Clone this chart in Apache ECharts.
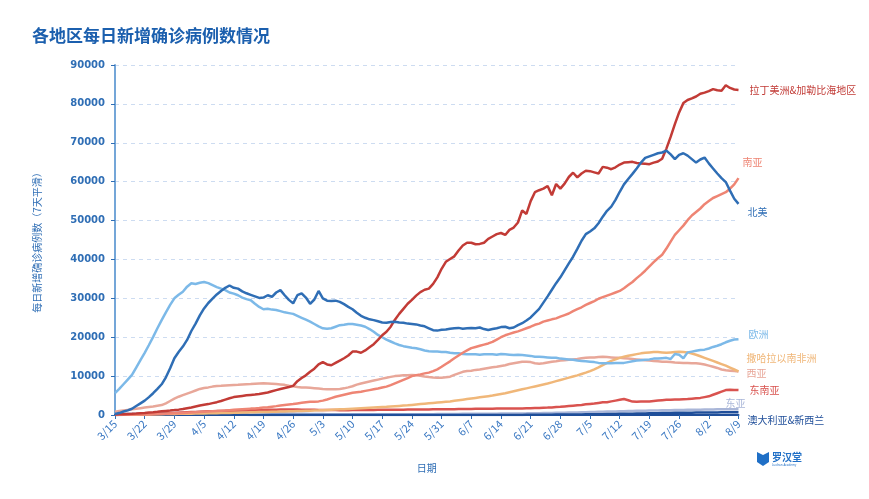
<!DOCTYPE html>
<html>
<head>
<meta charset="utf-8">
<script src="https://cdn.jsdelivr.net/npm/echarts@6/dist/echarts.min.js"></script>
<style>
html,body{margin:0;padding:0;background:#fff;}
#chart{width:869px;height:499px;}
</style>
</head>
<body>
<div id="chart"></div>
<script>
const dates = [
'3/15','3/16','3/17','3/18','3/19','3/20','3/21','3/22','3/23','3/24','3/25','3/26','3/27','3/28','3/29','3/30','3/31',
'4/1','4/2','4/3','4/4','4/5','4/6','4/7','4/8','4/9','4/10','4/11','4/12','4/13','4/14','4/15','4/16','4/17','4/18','4/19','4/20','4/21','4/22','4/23','4/24','4/25','4/26','4/27','4/28','4/29','4/30',
'5/1','5/2','5/3','5/4','5/5','5/6','5/7','5/8','5/9','5/10','5/11','5/12','5/13','5/14','5/15','5/16','5/17','5/18','5/19','5/20','5/21','5/22','5/23','5/24','5/25','5/26','5/27','5/28','5/29','5/30','5/31',
'6/1','6/2','6/3','6/4','6/5','6/6','6/7','6/8','6/9','6/10','6/11','6/12','6/13','6/14','6/15','6/16','6/17','6/18','6/19','6/20','6/21','6/22','6/23','6/24','6/25','6/26','6/27','6/28','6/29','6/30',
'7/1','7/2','7/3','7/4','7/5','7/6','7/7','7/8','7/9','7/10','7/11','7/12','7/13','7/14','7/15','7/16','7/17','7/18','7/19','7/20','7/21','7/22','7/23','7/24','7/25','7/26','7/27','7/28','7/29','7/30','7/31',
'8/1','8/2','8/3','8/4','8/5','8/6','8/7','8/8','8/9'
];

const yTicks = [0, 10000, 20000, 30000, 40000, 50000, 60000, 70000, 80000, 90000];

const latinAmerica = [
150,180,220,270,320,380,450,
520,620,720,830,950,1050,1150,
1260,1380,1540,1750,1950,2200,2450,
2650,2800,3050,3300,3600,3950,4300,
4600,4750,4900,5050,5150,5250,5400,
5600,5800,6100,6400,6700,6950,7200,
7500,8700,9500,10200,11100,11900,13000,
13600,13000,12800,13400,14000,14600,15300,
16300,16300,16000,16600,17400,18200,19300,
20500,21400,22700,24500,26000,27300,28600,
29600,30700,31600,32200,32500,33700,35400,
37600,39400,40100,40800,42300,43600,44300,
44300,43900,44000,44300,45300,45900,46500,
46800,46300,47600,48200,49500,52600,51700,
55000,57300,57800,58200,58900,56500,59400,
58200,59500,61200,62300,61100,62100,62800,
62700,62400,62100,63800,63600,63200,63700,
64400,64900,65000,65100,64800,64700,64600,
64500,64900,65200,65900,68500,71500,74800,
77800,80200,81000,81400,81900,82600,82900,
83300,83800,83500,83400,84800,84100,83700,
83600];

const northAmerica = [
250,500,900,1200,1600,2300,3000,
3700,4600,5600,6700,7900,9700,12000,
14600,16200,17600,19300,21600,23500,25600,
27400,28800,29900,31000,31900,32700,33300,
32700,32500,31800,31300,30900,30500,30100,
30200,30800,30400,31500,32100,30800,29600,
28700,30800,31300,30200,28600,29700,31900,
30000,29400,29300,29400,29100,28500,27800,
27200,26300,25500,25000,24600,24400,24100,
23800,23700,23900,24000,23800,23700,23500,
23400,23300,23000,22800,22300,21800,21700,
21900,22000,22200,22300,22400,22200,22300,
22400,22300,22500,22100,21850,22100,22300,
22600,22700,22300,22500,23100,23600,24300,
25100,26200,27300,28900,30500,32200,33900,
35400,37200,39000,40700,42700,44800,46500,
47200,48000,49300,51000,52500,53600,55300,
57400,59300,60700,62000,63400,64900,66100,
66500,66900,67300,67500,68000,67000,65800,
66900,67300,66700,65800,64900,65700,66200,
64700,63400,62100,60900,59900,57700,55600,
54300];

const southAsia = [
30,40,50,60,80,100,120,
150,180,220,260,300,340,380,
430,480,540,600,660,720,780,
840,900,960,1020,1090,1160,1240,
1320,1400,1480,1560,1640,1700,1780,
1900,2020,2150,2280,2420,2560,2700,
2830,2980,3130,3280,3400,3430,3500,
3700,4000,4350,4700,4950,5200,5450,
5700,5850,6000,6200,6400,6600,6800,
7050,7300,7700,8150,8600,9050,9500,
10000,10250,10450,10700,10900,11300,11750,
12400,13100,13800,14600,15300,16000,16600,
17200,17500,17800,18100,18400,18800,19400,
20000,20500,20850,21200,21500,21900,22300,
22700,23200,23500,24000,24300,24600,24850,
25300,25700,26100,26700,27200,27700,28300,
28800,29300,29900,30300,30700,31100,31500,
31900,32600,33400,34200,35200,36100,37100,
38200,39300,40300,41200,42800,44600,46300,
47500,48700,50100,51300,52200,53100,54200,
55000,55800,56300,56800,57300,58200,59300,
60900];

const europe = [
5600,6700,7900,9100,10300,12200,14100,
16000,18000,20100,22300,24400,26400,28300,
30000,30900,31700,33000,33900,33700,34000,
34200,33900,33400,32900,32500,32100,31500,
31200,30800,30200,29800,29500,28600,27800,
27200,27300,27100,27000,26700,26400,26200,
26000,25500,25000,24500,24000,23400,22800,
22300,22200,22300,22700,23100,23200,23400,
23400,23200,23000,22700,22100,21400,20600,
20000,19400,18900,18400,18000,17700,17500,
17300,17150,16900,16600,16400,16300,16300,
16200,16200,16000,15900,15900,15700,15600,
15600,15600,15500,15600,15600,15600,15500,
15700,15600,15500,15400,15500,15400,15300,
15200,15000,15000,14900,14800,14700,14700,
14500,14400,14300,14200,14000,13900,13800,
13700,13600,13400,13300,13300,13300,13400,
13400,13400,13600,13800,14000,14100,14200,
14300,14500,14500,14600,14700,14400,15700,
15500,14600,16100,16300,16500,16700,16800,
17100,17500,17800,18200,18700,19100,19400,
19500];

const subSaharanAfrica = [
30,40,50,60,70,90,110,
130,150,170,190,210,230,250,
270,290,310,330,350,370,390,
410,430,450,470,490,510,530,
560,590,620,650,680,710,740,
770,800,830,860,890,920,950,
980,1010,1040,1080,1120,1160,1200,
1250,1300,1350,1400,1450,1500,1560,
1620,1680,1740,1800,1860,1920,1980,
2040,2100,2180,2260,2340,2420,2500,
2600,2700,2800,2900,3000,3100,3200,
3300,3400,3500,3650,3800,3950,4100,
4250,4400,4550,4700,4850,5000,5200,
5400,5600,5850,6100,6350,6600,6850,
7100,7350,7600,7850,8100,8400,8700,
9000,9300,9600,9900,10200,10550,10900,
11300,11750,12250,12800,13400,13900,14300,
14700,15000,15250,15450,15650,15850,16000,
16100,16200,16200,16100,16000,16100,16200,
16250,16200,16100,15800,15500,15100,14700,
14300,13900,13500,13100,12700,12200,11700,
11200];

const westAsia = [
850,1000,1150,1300,1450,1600,1750,
1900,2050,2200,2400,2550,3000,3600,
4200,4700,5100,5500,5900,6300,6700,
6950,7100,7300,7450,7500,7600,7650,
7700,7750,7850,7900,7950,8050,8100,
8150,8100,8050,7950,7850,7750,7550,
7400,7200,7100,7050,7000,6900,6800,
6700,6650,6600,6600,6700,6850,7100,
7400,7800,8100,8350,8600,8850,9100,
9350,9600,9800,10000,10100,10200,10250,
10300,10250,10100,9900,9750,9650,9600,
9600,9700,9850,10300,10700,11100,11300,
11400,11600,11700,11900,12100,12300,12400,
12600,12800,13100,13300,13500,13700,13700,
13600,13300,13200,13300,13500,13700,13800,
14000,14100,14200,14300,14400,14600,14700,
14800,14800,14900,15000,14900,14800,14700,
14700,14600,14500,14400,14300,14200,14100,
14000,13900,13800,13700,13700,13600,13500,
13450,13400,13350,13300,13300,13200,13000,
12700,12400,12100,11700,11500,11400,11300,
11200];

const southeastAsia = [
30,40,50,70,90,110,140,
170,210,250,300,350,400,460,
520,580,640,700,750,800,850,
900,940,980,1010,1040,1070,1100,
1120,1150,1180,1200,1230,1260,1290,
1310,1330,1350,1370,1390,1400,1410,
1400,1390,1370,1350,1330,1320,1300,
1290,1280,1270,1260,1250,1250,1250,
1260,1270,1280,1290,1300,1310,1320,
1330,1340,1350,1360,1370,1380,1390,
1400,1410,1420,1430,1440,1450,1460,
1470,1480,1490,1500,1520,1540,1560,
1570,1580,1590,1600,1610,1620,1640,
1650,1660,1670,1680,1690,1700,1720,
1740,1770,1800,1850,1900,1960,2030,
2100,2200,2300,2400,2500,2600,2750,
2850,2950,3100,3250,3300,3500,3700,
3900,4100,3800,3450,3400,3450,3450,
3500,3600,3700,3800,3900,3950,4000,
4000,4050,4100,4200,4300,4400,4600,
4800,5200,5600,6000,6400,6500,6450,
6400];

const eastAsia = [
300,300,310,320,330,340,350,
360,370,390,410,430,460,490,
520,560,600,640,680,720,760,
800,840,870,890,900,900,890,
880,860,830,800,760,720,680,
640,600,560,520,480,440,400,
370,340,310,290,270,250,240,
230,220,210,200,190,180,180,
180,180,180,190,190,190,180,
180,170,170,170,170,170,170,
180,180,190,200,210,220,230,
240,250,260,270,280,290,290,
300,300,310,320,330,340,350,
360,370,380,390,400,410,420,
440,460,480,500,520,540,560,
580,600,620,640,660,690,720,
750,780,810,840,870,900,930,
960,990,1020,1050,1080,1100,1120,
1140,1160,1180,1200,1220,1240,1260,
1280,1300,1320,1340,1360,1380,1400,
1420,1440,1460,1470,1480,1490,1500,
1510];

const australiaNZ = [
20,30,40,50,70,90,120,
150,190,230,270,310,340,360,
370,370,360,340,310,280,240,
200,170,140,110,90,70,60,
50,45,40,35,30,25,20,
20,18,16,15,14,13,12,
12,12,12,12,12,12,12,
12,12,12,12,12,12,12,
12,12,12,12,12,12,12,
12,12,12,12,12,12,12,
12,12,12,12,12,12,12,
12,12,12,12,12,12,12,
12,12,12,12,12,13,14,
16,18,20,22,25,30,35,
40,50,60,70,80,90,100,
110,120,130,140,150,160,170,
180,190,200,210,230,250,270,
290,310,330,350,370,390,410,
430,450,470,490,510,530,550,
570,590,600,610,620,630,640,
650,660,670,680,690,690,690,
680];

const seriesDefs = [
  {name:'东亚', data:eastAsia, color:'#a9b6d8', offset:[-18,-6]},
  {name:'澳大利亚&新西兰', data:australiaNZ, color:'#1f4e99', offset:[4,8]},
  {name:'东南亚', data:southeastAsia, color:'#d9534f', offset:[6,0]},
  {name:'西亚', data:westAsia, color:'#e8a799', offset:[3,2]},
  {name:'撒哈拉以南非洲', data:subSaharanAfrica, color:'#f0b779', offset:[3,-13]},
  {name:'欧洲', data:europe, color:'#7cb9e8', offset:[5,-5]},
  {name:'南亚', data:southAsia, color:'#ee8574', offset:[-1,-16]},
  {name:'拉丁美洲&加勒比海地区', data:latinAmerica, color:'#c23b36', offset:[6,0]},
  {name:'北美', data:northAmerica, color:'#2f6eb5', offset:[4,8]}
];

const chart = echarts.init(document.getElementById('chart'), null, {renderer:'canvas'});
const FONT = 'Noto Sans CJK SC';

chart.setOption({
  backgroundColor:'#ffffff',
  animation:false,
  textStyle:{fontFamily:FONT},
  title:{
    text:'各地区每日新增确诊病例数情况',
    left:27, top:22,
    textStyle:{fontFamily:FONT, fontSize:17, fontWeight:'bold', color:'#1b5fae'}
  },
  grid:{left:115, right:130.5, top:65, bottom:84, containLabel:false},
  xAxis:{
    type:'category',
    data:dates,
    boundaryGap:false,
    name:'日期',
    nameLocation:'middle',
    nameGap:48,
    nameTextStyle:{color:'#2f6eb5', fontSize:10, fontFamily:FONT},
    axisLine:{show:true, lineStyle:{color:'#1f4e99', width:2}},
    axisTick:{show:true, interval:6, length:4, lineStyle:{color:'#2f6eb5'}},
    axisLabel:{interval:6, rotate:45, color:'#3a78c2', fontSize:11, fontFamily:FONT, margin:7},
    splitLine:{show:false}
  },
  yAxis:{
    type:'value',
    min:yTicks[0], max:yTicks[yTicks.length-1], interval:10000,
    name:'每日新增确诊病例数（7天平滑）',
    nameLocation:'middle',
    nameGap:73,
    nameRotate:90,
    nameTextStyle:{color:'#2f6eb5', fontSize:10, fontFamily:FONT},
    axisLine:{show:true, lineStyle:{color:'#74a6d8', width:2}},
    axisTick:{show:true, length:4, lineStyle:{color:'#2f6eb5'}},
    axisLabel:{color:'#2f6eb5', fontSize:10, fontWeight:'bold', fontFamily:'DejaVu Sans', margin:10,
      formatter: v => String(v)},
    splitLine:{show:true, lineStyle:{type:[4,4], color:'#cddcf1', width:1}}
  },
  series: seriesDefs.map(s => ({
    type:'line',
    name:s.name,
    data:s.data,
    symbol:'none',
    showSymbol:false,
    lineStyle:{width:2.5, color:s.color},
    itemStyle:{color:s.color},
    emphasis:{disabled:true},
    endLabel:{
      show:true,
      formatter:s.name,
      color:s.color,
      fontSize:10,
      fontFamily:FONT,
      distance:5,
      offset:s.offset
    }
  })),
  graphic:[
    {type:'polygon', left:757, top:452, shape:{points:[[0,0],[6,3],[12,0],[12,10],[6,14],[0,10]]}, style:{fill:'#1f6fc6'}},
    {type:'text', left:772, top:452, style:{text:'罗汉堂', fill:'#1f6fc6', font:'bold 10px "Noto Sans CJK SC"'}},
    {type:'text', left:772, top:464, style:{text:'Luohan Academy', fill:'#1f6fc6', font:'3px "Noto Sans"'}}
  ]
});
</script>
</body>
</html>
